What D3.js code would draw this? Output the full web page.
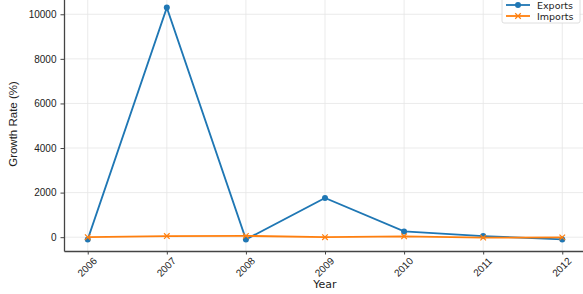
<!DOCTYPE html>
<html>
<head>
<meta charset="utf-8">
<script src="https://cdn.jsdelivr.net/npm/d3@7"></script>
<style>
  body { margin: 0; background: #fff; }
  svg { display: block; font-family: "DejaVu Sans", sans-serif; }
  .grid line { stroke: #e6e6e6; stroke-width: 0.8; }
  .axis path, .axis line { stroke: #444; }
  .axis text { fill: #222; font-size: 10px; }
</style>
</head>
<body>
<svg id="chart" width="583" height="294"></svg>
<script>
"use strict";

var years = [2006, 2007, 2008, 2009, 2010, 2011, 2012];
var exportsGrowth = [-100, 10300, -100, 1760, 260, 50, -100];
var importsGrowth = [0, 50, 60, 0, 40, -20, -10];
var yTicks = [0, 2000, 4000, 6000, 8000, 10000];

var svg = d3.select("#chart");
var plotLeft = 64, plotRight = 586, plotTop = -4, plotBottom = 251;

var x = d3.scaleLinear().domain([2005.7, 2012.3]).range([plotLeft, plotRight]);
var y = d3.scaleLinear().domain([-620, 10820]).range([plotBottom, plotTop]);

// grid
svg.append("g").attr("class", "grid")
  .selectAll("line").data(years).enter().append("line")
    .attr("x1", function(d) { return x(d); }).attr("x2", function(d) { return x(d); })
    .attr("y1", plotTop).attr("y2", plotBottom);
svg.append("g").attr("class", "grid")
  .selectAll("line").data(yTicks).enter().append("line")
    .attr("x1", plotLeft).attr("x2", plotRight)
    .attr("y1", function(d) { return y(d); }).attr("y2", function(d) { return y(d); });

// axes
var xAxis = svg.append("g")
  .attr("class", "axis")
  .attr("transform", "translate(0," + plotBottom + ")")
  .call(d3.axisBottom(x).tickValues(years).tickFormat(d3.format("d")).tickSize(3.5).tickSizeOuter(0));
xAxis.select(".domain").attr("stroke-width", 1.3);
// rotated labels centred under each tick
xAxis.selectAll("text")
  .attr("text-anchor", "middle")
  .attr("y", 0).attr("dy", "0.35em")
  .attr("transform", "translate(-1,16) rotate(-45)");

var yAxis = svg.append("g")
  .attr("class", "axis")
  .attr("transform", "translate(" + plotLeft + ",0)")
  .call(d3.axisLeft(y).tickValues(yTicks).tickFormat(d3.format("d")).tickSize(3.5).tickSizeOuter(0).tickPadding(4));
yAxis.select(".domain").attr("stroke-width", 1.3);

svg.append("text")
  .attr("x", 325).attr("y", 288)
  .attr("text-anchor", "middle")
  .attr("font-size", 11)
  .attr("fill", "#222")
  .text("Year");

svg.append("text")
  .attr("transform", "translate(17,124) rotate(-90)")
  .attr("text-anchor", "middle")
  .attr("font-family", "Liberation Sans Narrow, Liberation Sans, sans-serif")
  .attr("font-size", 11.5)
  .attr("fill", "#222")
  .text("Growth Rate (%)");

// lines
var line = d3.line()
  .x(function(d, i) { return x(years[i]); })
  .y(function(d) { return y(d); });

svg.append("path").datum(exportsGrowth)
  .attr("fill", "none").attr("stroke", "#1f77b4").attr("stroke-width", 1.8)
  .attr("d", line);
svg.append("g").selectAll("circle").data(exportsGrowth).enter().append("circle")
  .attr("cx", function(d, i) { return x(years[i]); })
  .attr("cy", function(d) { return y(d); })
  .attr("r", 3)
  .attr("fill", "#1f77b4");

svg.append("path").datum(importsGrowth)
  .attr("fill", "none").attr("stroke", "#ff7f0e").attr("stroke-width", 1.8)
  .attr("d", line);
var cross = d3.symbol().type(d3.symbolX).size(22);
svg.append("g").selectAll("path").data(importsGrowth).enter().append("path")
  .attr("transform", function(d, i) { return "translate(" + x(years[i]) + "," + y(d) + ")"; })
  .attr("d", cross)
  .attr("fill", "none")
  .attr("stroke", "#ff7f0e")
  .attr("stroke-width", 1.2);

// legend
var legend = svg.append("g").attr("transform", "translate(502,-3)");
legend.append("rect")
  .attr("width", 78).attr("height", 26).attr("rx", 2)
  .attr("fill", "#fff").attr("fill-opacity", 0.85)
  .attr("stroke", "#d6d6d6").attr("stroke-width", 0.8);
var entries = [
  { name: "Exports", color: "#1f77b4", marker: "circle" },
  { name: "Imports", color: "#ff7f0e", marker: "x" }
];
entries.forEach(function(e, i) {
  var yy = 8 + i * 11;
  legend.append("line")
    .attr("x1", 4).attr("x2", 28).attr("y1", yy).attr("y2", yy)
    .attr("stroke", e.color).attr("stroke-width", 1.8);
  if (e.marker === "circle") {
    legend.append("circle").attr("cx", 16).attr("cy", yy).attr("r", 3).attr("fill", e.color);
  } else {
    legend.append("path").attr("transform", "translate(16," + yy + ")")
      .attr("d", cross).attr("fill", "none").attr("stroke", e.color).attr("stroke-width", 1.2);
  }
  legend.append("text")
    .attr("x", 35).attr("y", yy + 3.5)
    .attr("font-size", 9.5).attr("fill", "#222")
    .text(e.name);
});
</script>
</body>
</html>
